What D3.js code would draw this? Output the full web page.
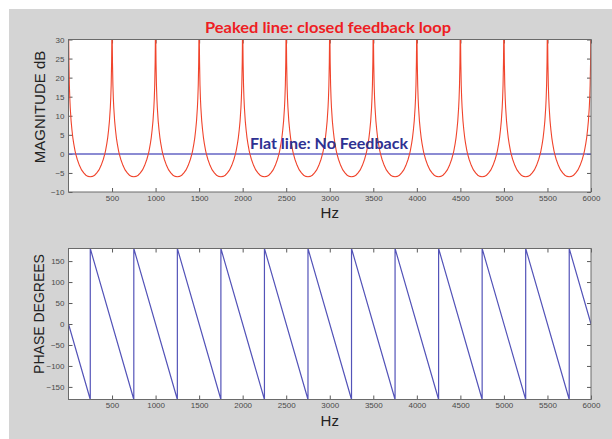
<!DOCTYPE html>
<html>
<head>
<meta charset="utf-8">
<script src="https://cdn.jsdelivr.net/npm/d3@7"></script>
<style>
html,body{margin:0;padding:0;background:#fff;}
svg{display:block;}
</style>
</head>
<body>
<svg id="chart" width="612" height="439"></svg>
<script>
// ---------- DATA ----------
const xTicks = [500,1000,1500,2000,2500,3000,3500,4000,4500,5000,5500,6000];
const magTicks = [-10,-5,0,5,10,15,20,25,30];
const phaseTicks = [-150,-100,-50,0,50,100,150];

// resonance peaks of the closed feedback loop (Hz)
const peakFreqs = [0,500,1000,1500,2000,2500,3000,3500,4000,4500,5000,5500,6000];
// magnitude profile of one half lobe: distance from a peak (Hz) and level (dB)
const lobeDist = [0,2,3,5,10,15,20,30,40,50,60,75,83,100,125,150,175,200,225,250];
const lobeDb   = [45,32,28.5,24,18,14.5,12.1,8.6,6.2,4.2,2.7,0.8,0,-1.4,-3.0,-4.2,-5.0,-5.6,-5.9,-6.0];

// no feedback: flat 0 dB line
const flatHz = [0,6000];
const flatDb = [0,0];

// wrapped phase (sawtooth) corner points
const phaseHz  = [0,250,250,750,750,1250,1250,1750,1750,2250,2250,2750,2750,3250,3250,3750,3750,4250,4250,4750,4750,5250,5250,5750,5750,6000];
const phaseDeg = [0,-180,180,-180,180,-180,180,-180,180,-180,180,-180,180,-180,180,-180,180,-180,180,-180,180,-180,180,-180,180,0];

const titleTop = "Peaked line: closed feedback loop";
const titleFlat = "Flat line: No Feedback";

// ---------- BUILD SERIES ----------
const magPts = [];
for (let i = 0; i < peakFreqs.length - 1; i++) {
  const a = peakFreqs[i], b = peakFreqs[i+1];
  for (let k = 0; k < lobeDist.length; k++) magPts.push([a + lobeDist[k], lobeDb[k]]);
  for (let k = lobeDist.length - 2; k >= 0; k--) magPts.push([b - lobeDist[k], lobeDb[k]]);
}
const flatPts = flatHz.map((f,i)=>[f, flatDb[i]]);
const phasePts = phaseHz.map((f,i)=>[f, phaseDeg[i]]);

// ---------- DRAW ----------
const svg = d3.select("#chart");
svg.append("rect").attr("x",9).attr("y",9).attr("width",603).attr("height",430).attr("fill","#d4d4d4");

const L = 68.5, R = 591;
const x = d3.scaleLinear().domain([0,6000]).range([L,R]);

function panel(top, bottom, yDomain, yTicks, pts, lineColor, lineWidth, id) {
  const y = d3.scaleLinear().domain(yDomain).range([bottom, top]);
  const g = svg.append("g");
  g.append("rect").attr("x",L).attr("y",top).attr("width",R-L).attr("height",bottom-top).attr("fill","#fff");
  g.append("clipPath").attr("id",id).append("rect").attr("x",L).attr("y",top).attr("width",R-L).attr("height",bottom-top);

  const tickLen = 4;
  const axStyle = sel => {
    sel.select(".domain").remove();
    sel.selectAll(".tick line").attr("stroke","#5a5a5a");
    sel.selectAll(".tick text").attr("fill","#4a4a4a").style("font-family","Liberation Sans, Arial, sans-serif").style("font-size","8px");
  };
  // bottom axis (ticks inward)
  g.append("g").attr("transform",`translate(0,${bottom})`)
    .call(d3.axisBottom(x).tickValues(xTicks).tickSizeInner(-tickLen).tickSizeOuter(0).tickPadding(3).tickFormat(d3.format("d")))
    .call(axStyle);
  // top axis ticks (no labels)
  g.append("g").attr("transform",`translate(0,${top})`)
    .call(d3.axisTop(x).tickValues(xTicks).tickSizeInner(-tickLen).tickSizeOuter(0).tickFormat(""))
    .call(axStyle);
  // left axis
  g.append("g").attr("transform",`translate(${L},0)`)
    .call(d3.axisLeft(y).tickValues(yTicks).tickSizeInner(-tickLen).tickSizeOuter(0).tickPadding(4).tickFormat(d3.format("d")))
    .call(axStyle);
  // right axis ticks
  g.append("g").attr("transform",`translate(${R},0)`)
    .call(d3.axisRight(y).tickValues(yTicks).tickSizeInner(-tickLen).tickSizeOuter(0).tickFormat(""))
    .call(axStyle);

  const line = d3.line().x(d=>x(d[0])).y(d=>y(d[1]));
  const lg = g.append("g").attr("clip-path",`url(#${id})`);
  pts.forEach((p,i)=>{
    lg.append("path").datum(p[0]).attr("d",line).attr("fill","none")
      .attr("stroke",lineColor[i]).attr("stroke-width",lineWidth[i]);
  });
  g.append("rect").attr("x",L).attr("y",top).attr("width",R-L).attr("height",bottom-top)
    .attr("fill","none").attr("stroke","#6a6a6a").attr("stroke-width",1);
  return y;
}

const yMag = panel(39.5, 192, [-10,30], magTicks, [[flatPts],[magPts]], ["#6464c4","#f0442c"], [1.5,1.1], "clipMag");
const yPh = panel(248.5, 399.5, [-180,180], phaseTicks, [[phasePts]], ["#5353b8"], [1.2], "clipPh");

// axis labels
const labFont = "Liberation Sans, Arial, sans-serif";
svg.append("text").attr("transform",`translate(45,107) rotate(-90)`).attr("text-anchor","middle")
  .style("font-family",labFont).style("font-size","15px").attr("fill","#222").text("MAGNITUDE dB");
svg.append("text").attr("transform",`translate(44,314) rotate(-90)`).attr("text-anchor","middle")
  .style("font-family",labFont).style("font-size","14px").attr("fill","#222").text("PHASE DEGREES");
svg.append("text").attr("x",(L+R)/2).attr("y",218).attr("text-anchor","middle")
  .style("font-family",labFont).style("font-size","15px").attr("fill","#222").text("Hz");
svg.append("text").attr("x",(L+R)/2).attr("y",425.5).attr("text-anchor","middle")
  .style("font-family",labFont).style("font-size","15px").attr("fill","#222").text("Hz");

// annotations
svg.append("text").attr("x",205).attr("y",32.5)
  .style("font-family","Lato, 'Open Sans', sans-serif").style("font-weight","bold").style("font-size","15.5px")
  .attr("fill","#ee1d23").attr("textLength",246).attr("lengthAdjust","spacingAndGlyphs").text(titleTop);
svg.append("text").attr("x",250).attr("y",148.5)
  .style("font-family","Lato, 'Open Sans', sans-serif").style("font-weight","bold").style("font-size","15.5px")
  .attr("fill","#2e3192").attr("textLength",158).attr("lengthAdjust","spacingAndGlyphs").text(titleFlat);
</script>
</body>
</html>
